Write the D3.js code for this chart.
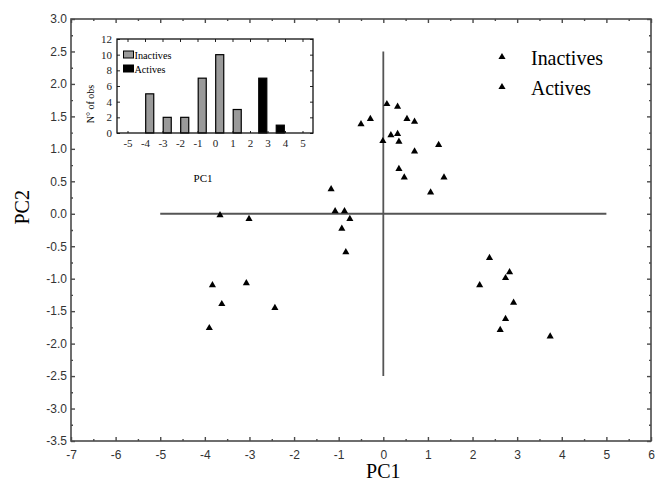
<!DOCTYPE html>
<html>
<head>
<meta charset="utf-8">
<script src="https://cdn.jsdelivr.net/npm/d3@7/dist/d3.min.js"></script>
<style>
  html, body { margin: 0; padding: 0; background: #fff; }
  svg { display: block; }
</style>
</head>
<body>
<svg id="chart" width="656" height="490"></svg>
<script>
// PCA scores (PC1, PC2) for each compound
const inactivesPC1 = [-3.66, -3.01, -3.83, -3.07, -3.62, -2.43, -3.90,
  0.08, 0.32, -0.50, -0.29, 0.53, 0.70, 0.17, 0.32, 0.35, -0.01, 1.24,
  0.70, 0.35, 0.47, 1.36, 1.06, -1.17, -1.08, -0.87, -0.75, -0.93, -0.84];
const inactivesPC2 = [-0.02, -0.08, -1.10, -1.07, -1.39, -1.45, -1.76,
  1.69, 1.65, 1.38, 1.46, 1.46, 1.42, 1.21, 1.23, 1.11, 1.12, 1.06,
  0.96, 0.69, 0.56, 0.56, 0.33, 0.38, 0.04, 0.04, -0.08, -0.23, -0.59];
const activesPC1 = [2.38, 2.83, 2.74, 2.16, 2.92, 2.74, 2.62, 3.74];
const activesPC2 = [-0.68, -0.90, -0.99, -1.10, -1.37, -1.62, -1.79, -1.89];

// PC1 histogram (number of observations per bin)
const histBins = [-4, -3, -2, -1, 0, 1, 2, 3, 4];
const histInactives = [5, 2, 2, 7, 10, 3, 0, 0, 0];
const histActives = [0, 0, 0, 0, 0, 0, 0, 7, 1];

// Axis ticks
const xTicks = d3.range(-7, 7, 1);
const xMinorTicks = d3.range(-6.5, 6, 1);
const yTicks = d3.range(-3.5, 3.01, 0.5);
const yMinorTicks = d3.range(-3.25, 3, 0.5);
const insetXTicks = d3.range(-5, 6, 1);
const insetYTicks = d3.range(0, 13, 2);

const seriesNames = ["Inactives", "Actives"];

const svg = d3.select("#chart");
const serif = "'Liberation Serif', 'Times New Roman', serif";
const sans = "'Liberation Sans', Arial, sans-serif";
const frameColor = "#4a4a4a";

// ---- main scatter plot ----
const plot = { left: 71, right: 651, top: 19, bottom: 441 };
const x = d3.scaleLinear().domain([-7, 6]).range([plot.left, plot.right]);
const y = d3.scaleLinear().domain([-3.5, 3]).range([plot.bottom, plot.top]);

function styleAxis(g, showText) {
  g.select(".domain").remove();
  g.selectAll(".tick line").attr("stroke", frameColor).attr("stroke-width", 1.4);
  g.selectAll(".tick text")
    .attr("fill", "#333")
    .style("font-family", sans)
    .style("font-size", "12px")
    .style("display", showText ? null : "none");
}

const fmtX = d => String(d);
const fmtY = d => d.toFixed(1);

// bottom
svg.append("g").attr("transform", `translate(0,${plot.bottom})`)
  .call(d3.axisBottom(x).tickValues(xTicks).tickSize(-4).tickPadding(9).tickFormat(fmtX))
  .call(g => styleAxis(g, true));
svg.append("g").attr("transform", `translate(0,${plot.bottom})`)
  .call(d3.axisBottom(x).tickValues(xMinorTicks).tickSize(-2).tickFormat(""))
  .call(g => styleAxis(g, false));
// top
svg.append("g").attr("transform", `translate(0,${plot.top})`)
  .call(d3.axisTop(x).tickValues(xTicks).tickSize(-4).tickFormat(""))
  .call(g => styleAxis(g, false));
svg.append("g").attr("transform", `translate(0,${plot.top})`)
  .call(d3.axisTop(x).tickValues(xMinorTicks).tickSize(-2).tickFormat(""))
  .call(g => styleAxis(g, false));
// left
svg.append("g").attr("transform", `translate(${plot.left},0)`)
  .call(d3.axisLeft(y).tickValues(yTicks).tickSize(-4).tickPadding(4).tickFormat(fmtY))
  .call(g => styleAxis(g, true));
svg.append("g").attr("transform", `translate(${plot.left},0)`)
  .call(d3.axisLeft(y).tickValues(yMinorTicks).tickSize(-2).tickFormat(""))
  .call(g => styleAxis(g, false));
// right
svg.append("g").attr("transform", `translate(${plot.right},0)`)
  .call(d3.axisRight(y).tickValues(yTicks).tickSize(-4).tickFormat(""))
  .call(g => styleAxis(g, false));
svg.append("g").attr("transform", `translate(${plot.right},0)`)
  .call(d3.axisRight(y).tickValues(yMinorTicks).tickSize(-2).tickFormat(""))
  .call(g => styleAxis(g, false));

// frame
svg.append("rect")
  .attr("x", plot.left).attr("y", plot.top)
  .attr("width", plot.right - plot.left).attr("height", plot.bottom - plot.top)
  .attr("fill", "none").attr("stroke", frameColor).attr("stroke-width", 1.6);

// origin cross
svg.append("line")
  .attr("x1", x(-5)).attr("x2", x(5)).attr("y1", y(0)).attr("y2", y(0))
  .attr("stroke", "#555").attr("stroke-width", 1.8);
svg.append("line")
  .attr("x1", x(0)).attr("x2", x(0)).attr("y1", y(-2.5)).attr("y2", y(2.5))
  .attr("stroke", "#555").attr("stroke-width", 1.8);

// axis titles
svg.append("text")
  .attr("x", x(0)).attr("y", 478)
  .attr("text-anchor", "middle")
  .style("font-family", serif).style("font-size", "20px")
  .text("PC1");
svg.append("text")
  .attr("transform", `translate(29,${y(0.1)}) rotate(-90)`)
  .attr("text-anchor", "middle")
  .style("font-family", serif).style("font-size", "20px")
  .text("PC2");

// points
const tri = d3.symbol().type(d3.symbolTriangle).size(22);
const pointsG = svg.append("g");
const inactives = inactivesPC1.map((v, i) => [v, inactivesPC2[i]]);
const actives = activesPC1.map((v, i) => [v, activesPC2[i]]);
[inactives, actives].forEach(data => {
  pointsG.selectAll(null).data(data).enter().append("path")
    .attr("d", tri)
    .attr("transform", d => `translate(${x(d[0])},${y(d[1])})`)
    .attr("fill", "#000");
});

// legend
const legend = svg.append("g");
seriesNames.forEach((name, i) => {
  const cy = 57 + i * 30;
  legend.append("path").attr("d", tri)
    .attr("transform", `translate(502,${cy})`).attr("fill", "#000");
  legend.append("text")
    .attr("x", 531).attr("y", cy + 8)
    .attr("textLength", name === "Inactives" ? 72 : 60)
    .attr("lengthAdjust", "spacingAndGlyphs")
    .style("font-family", serif).style("font-size", "22px")
    .text(name);
});

// ---- inset histogram of PC1 ----
const inset = { left: 117, right: 313, top: 39, bottom: 133 };
const hx = d3.scaleLinear().domain([-5.6, 5.6]).range([inset.left, inset.right]);
const hy = d3.scaleLinear().domain([0, 12]).range([inset.bottom, inset.top]);
const ig = svg.append("g");

function styleInset(g, showText) {
  g.select(".domain").remove();
  g.selectAll(".tick line").attr("stroke", "#222").attr("stroke-width", 1);
  g.selectAll(".tick text")
    .attr("fill", "#222")
    .style("font-family", serif)
    .style("font-size", "11px")
    .style("display", showText ? null : "none");
}

ig.append("g").attr("transform", `translate(0,${inset.bottom})`)
  .call(d3.axisBottom(hx).tickValues(insetXTicks).tickSize(-2).tickPadding(6).tickFormat(d => String(d)))
  .call(g => styleInset(g, true));
ig.append("g").attr("transform", `translate(0,${inset.top})`)
  .call(d3.axisTop(hx).tickValues(insetXTicks).tickSize(-3).tickFormat(""))
  .call(g => styleInset(g, false));
ig.append("g").attr("transform", `translate(${inset.left},0)`)
  .call(d3.axisLeft(hy).tickValues(insetYTicks).tickSize(-3).tickPadding(5).tickFormat(d => String(d)))
  .call(g => styleInset(g, true));
ig.append("g").attr("transform", `translate(${inset.right},0)`)
  .call(d3.axisRight(hy).tickValues(insetYTicks).tickSize(-3).tickFormat(""))
  .call(g => styleInset(g, false));

// bars: inactives to the right of each bin, actives to the left
const barW = 0.46;
histBins.forEach((b, i) => {
  if (histInactives[i] > 0) {
    ig.append("rect")
      .attr("x", hx(b + 0.04)).attr("width", hx(b + 0.04 + barW) - hx(b + 0.04))
      .attr("y", hy(histInactives[i])).attr("height", hy(0) - hy(histInactives[i]))
      .attr("fill", "#9a9a9a").attr("stroke", "#000").attr("stroke-width", 1.2);
  }
  if (histActives[i] > 0) {
    ig.append("rect")
      .attr("x", hx(b - 0.04 - barW)).attr("width", hx(b - 0.04) - hx(b - 0.04 - barW))
      .attr("y", hy(histActives[i])).attr("height", hy(0) - hy(histActives[i]))
      .attr("fill", "#000").attr("stroke", "#000").attr("stroke-width", 1.2);
  }
});

ig.append("rect")
  .attr("x", inset.left).attr("y", inset.top)
  .attr("width", inset.right - inset.left).attr("height", inset.bottom - inset.top)
  .attr("fill", "none").attr("stroke", "#111").attr("stroke-width", 1.3);

// inset legend
const swatchFill = ["#9a9a9a", "#000"];
seriesNames.forEach((name, i) => {
  const top = 51 + i * 14;
  ig.append("rect")
    .attr("x", 123.5).attr("y", top).attr("width", 10).attr("height", 7)
    .attr("fill", swatchFill[i]).attr("stroke", "#000").attr("stroke-width", 1);
  ig.append("text")
    .attr("x", 134.5).attr("y", top + 7.5)
    .style("font-family", serif).style("font-size", "11px")
    .attr("textLength", name === "Inactives" ? 37 : 31)
    .attr("lengthAdjust", "spacingAndGlyphs")
    .text(name);
});

ig.append("text")
  .attr("x", 203).attr("y", 182)
  .attr("text-anchor", "middle")
  .style("font-family", serif).style("font-size", "11px")
  .text("PC1");
ig.append("text")
  .attr("transform", "translate(94,104) rotate(-90)")
  .attr("text-anchor", "middle")
  .style("font-family", serif).style("font-size", "10px")
  .text("N° of obs");
</script>
</body>
</html>
